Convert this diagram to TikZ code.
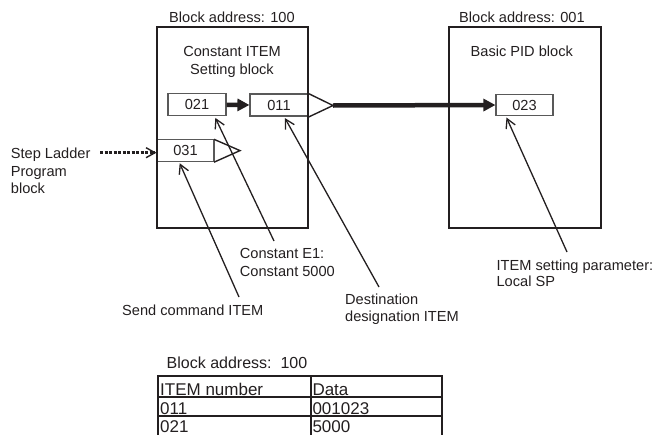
\documentclass[tikz,border=0pt]{standalone}
\usepackage{fontspec}
\setmainfont{Liberation Sans}
\usetikzlibrary{arrows.meta,calc}
\definecolor{ink}{HTML}{231F20}
\begin{document}
\begin{tikzpicture}[x=1pt,y=-1pt,
  lbl/.style={inner sep=0pt, text=ink, anchor=base west, font=\fontsize{14.6}{17}\selectfont},
  big/.style={draw=ink, line width=2pt},
  cell/.style={draw=black!65, line width=1.1pt, minimum width=58pt, minimum height=22pt, inner sep=0pt, text=ink, font=\fontsize{14.6}{17}\selectfont},
  tri/.style={draw=ink, line width=1.4pt, line join=miter},
  ptr/.style={draw=ink, line width=1.3pt, -{Straight Barb[length=9pt,width=10pt,line width=1.3pt]}},
  fat/.style={draw=ink, line width=4.5pt, -{Triangle[length=12pt,width=12pt]}},
  dots/.style={draw=ink, line width=3pt, dash pattern=on 3pt off 1.5pt, -{Straight Barb[length=9pt,width=10pt,line width=1.4pt]}},
  tline/.style={draw=ink, line width=2pt},
  thead/.style={inner sep=0pt, text=ink, anchor=base west, font=\fontsize{16}{19}\selectfont},
  tcell/.style={inner sep=0pt, text=ink, anchor=base west, font=\fontsize{17}{20}\selectfont}
]
\useasboundingbox (0,0) rectangle (656,434);

% titles
\node[lbl] (t1) at (169,22) {Block address: 100};
\node[lbl] (t2) at (459,22) {Block address: 001};
\node[lbl, anchor=base] (c1) at (232,56.7) {Constant ITEM};
\node[lbl, anchor=base] (c2) at (232,74) {Setting block};
\node[lbl] (pid) at (470.5,56) {Basic PID block};

% small cells
\node[cell] (b021) at (197,104.8) {021};
\node[cell] (b011) at (279,105) {011};
\node[cell, minimum width=57pt] (b031) at (185.5,150.2) {031};
\node[cell, minimum width=57pt, minimum height=21pt] (b023) at (524.5,105) {023};

% big boxes
\draw[big] (157,27) rectangle (308,228);
\draw[big] (449,27) rectangle (600.5,228);

% triangles (outputs)
\coordinate (tipA) at (333,105.5);
\coordinate (tipB) at (240,150.6);
\draw[tri] (308,93.3) -- (tipA) -- (308,117.3);
\draw[tri] (214,139.3) -- (tipB) -- (214,162.2);

% data flow arrows
\draw[fat] (b021.east) -- (b011.west);
\draw[fat] (tipA) -- (b023.west);

% step ladder
\node[lbl] (s1) at (10.7,158.5) {Step Ladder};
\node[lbl] (s2) at (10.7,176) {Program};
\node[lbl] (s3) at (10.7,193) {block};
\coordinate (ds) at (100,152.7);
\draw[dots] (ds) -- (ds -| b031.west);

% annotation labels
\node[lbl] (e1) at (239.7,258.3) {Constant E1:};
\node[lbl] (e2) at (239.7,276) {Constant 5000};
\node[lbl] (sc) at (122,315) {Send command ITEM};
\node[lbl] (d1) at (345,304) {Destination};
\node[lbl] (d2) at (345,321.7) {designation ITEM};
\node[lbl] (p1) at (496.4,270.7) {ITEM setting parameter:};
\node[lbl] (p2) at (496.4,286.7) {Local SP};

% pointers
\coordinate (pe1) at (274,241);
\coordinate (pe2) at (239,297);
\coordinate (pe3) at (379,287);
\coordinate (pe4) at (567,252);
\draw[ptr] (pe1) -- ($(b021.south west)!0.81!(b021.south east)+(0,1.5)$);
\draw[ptr] (pe2) -- ($(b031.south west)!0.40!(b031.south east)+(0,1.5)$);
\draw[ptr] (pe3) -- ($(b011.south west)!0.60!(b011.south east)+(0,1.5)$);
\draw[ptr] (pe4) -- ($(b023.south west)!0.19!(b023.south east)+(0,1.5)$);

% table
\node[thead] (th) at (166.5,368.3) {Block address:\ \ 100};
\draw[tline] (157.7,436) -- (157.7,375.5) -- (442,375.5) -- (442,436);
\draw[tline] (310.7,375.5) -- (310.7,436);
\draw[tline] (157.7,396.7) -- (442,396.7);
\draw[tline] (157.7,415.8) -- (442,415.8);
\node[tcell] (h1) at (160,395.7) {ITEM number};
\node[tcell] (h2) at (312.3,395.7) {Data};
\node[tcell] (r1a) at (160,414.8) {011};
\node[tcell] (r1b) at (312.3,414.8) {001023};
\node[tcell] (r2a) at (160,432.8) {021};
\node[tcell] (r2b) at (312.3,432.8) {5000};
\end{tikzpicture}
\end{document}
